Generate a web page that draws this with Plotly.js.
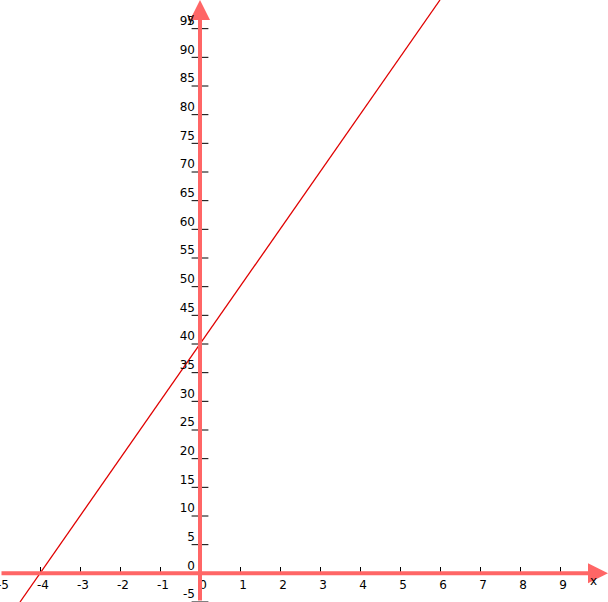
<!DOCTYPE html>
<html>
<head>
<meta charset="utf-8">
<script src="https://cdn.plot.ly/plotly-3.0.1.min.js"></script>
<style>html,body{margin:0;padding:0;background:#fff;}#chart{width:608px;height:602px;}</style>
</head>
<body>
<div id="chart"></div>
<script>
// Data
var lineX = [-4.5, 6];
var lineY = [-5, 100];
var xTickVals = [-5, -4, -3, -2, -1, 0, 1, 2, 3, 4, 5, 6, 7, 8, 9];
var xTickText = ['-5', '-4', '-3', '-2', '-1', '0', '1', '2', '3', '4', '5', '6', '7', '8', '9'];
var yTickVals = [-5, 0, 5, 10, 15, 20, 25, 30, 35, 40, 45, 50, 55, 60, 65, 70, 75, 80, 85, 90, 95];
var yTickText = ['-5', '0', '5', '10', '15', '20', '25', '30', '35', '40', '45', '50', '55', '60', '65', '70', '75', '80', '85', '90', '95'];
var xRange = [-5, 10.2];
var yRange = [-5, 100];

var axisColor = '#ff6666';
var lineColor = '#e00000';
var font = {family: 'DejaVu Sans, sans-serif', size: 12, color: '#000'};

var trace = {
  x: lineX, y: lineY, type: 'scatter', mode: 'lines',
  line: {color: lineColor, width: 1.3}, hoverinfo: 'skip', showlegend: false
};

// y-axis tick marks crossing the axis
var yTickMarks = {
  x: yTickVals.map(function () { return 0; }), y: yTickVals,
  type: 'scatter', mode: 'markers', hoverinfo: 'skip', showlegend: false,
  marker: {symbol: 'line-ew', size: 12, color: '#000', line: {color: '#000', width: 1}},
  cliponaxis: false
};

var layout = {
  width: 608, height: 602,
  margin: {l: 0, r: 0, t: 0, b: 0},
  paper_bgcolor: '#fff', plot_bgcolor: '#fff',
  showlegend: false,
  font: font,
  xaxis: {
    range: xRange, showgrid: false, zeroline: false, showline: false,
    anchor: 'free', position: (0 - yRange[0]) / (yRange[1] - yRange[0]),
    tickmode: 'array', tickvals: xTickVals, ticktext: xTickText,
    ticks: 'inside', ticklen: 6, tickwidth: 1, tickcolor: '#000',
    ticklabelshift: 3, ticklabelstandoff: 3, ticklabeloverflow: 'allow',
    tickfont: font, fixedrange: true
  },
  yaxis: {
    range: yRange, showgrid: false, zeroline: false, showline: false,
    anchor: 'free', position: (0 - xRange[0]) / (xRange[1] - xRange[0]),
    tickmode: 'array', tickvals: yTickVals, ticktext: yTickText,
    ticks: '', ticklabelshift: -8, ticklabelstandoff: 5, ticklabeloverflow: 'allow',
    tickfont: font, fixedrange: true
  },
  annotations: [
    {x: 0, y: yRange[1], ax: 0, ay: yRange[0], xref: 'x', yref: 'y', axref: 'x', ayref: 'y',
     showarrow: true, arrowhead: 2, arrowsize: 1, arrowwidth: 4, arrowcolor: axisColor, text: ''},
    {x: xRange[1], y: 0, ax: xRange[0], ay: 0, xref: 'x', yref: 'y', axref: 'x', ayref: 'y',
     showarrow: true, arrowhead: 2, arrowsize: 1, arrowwidth: 4, arrowcolor: axisColor, text: ''},
    {x: 9.83, y: -1.3, xref: 'x', yref: 'y', text: 'x', showarrow: false, font: font},
    {x: -0.25, y: 96.8, xref: 'x', yref: 'y', text: 'y', showarrow: false, font: font}
  ]
};

Plotly.newPlot('chart', [trace, yTickMarks], layout, {displayModeBar: false, staticPlot: true});
</script>
</body>
</html>
